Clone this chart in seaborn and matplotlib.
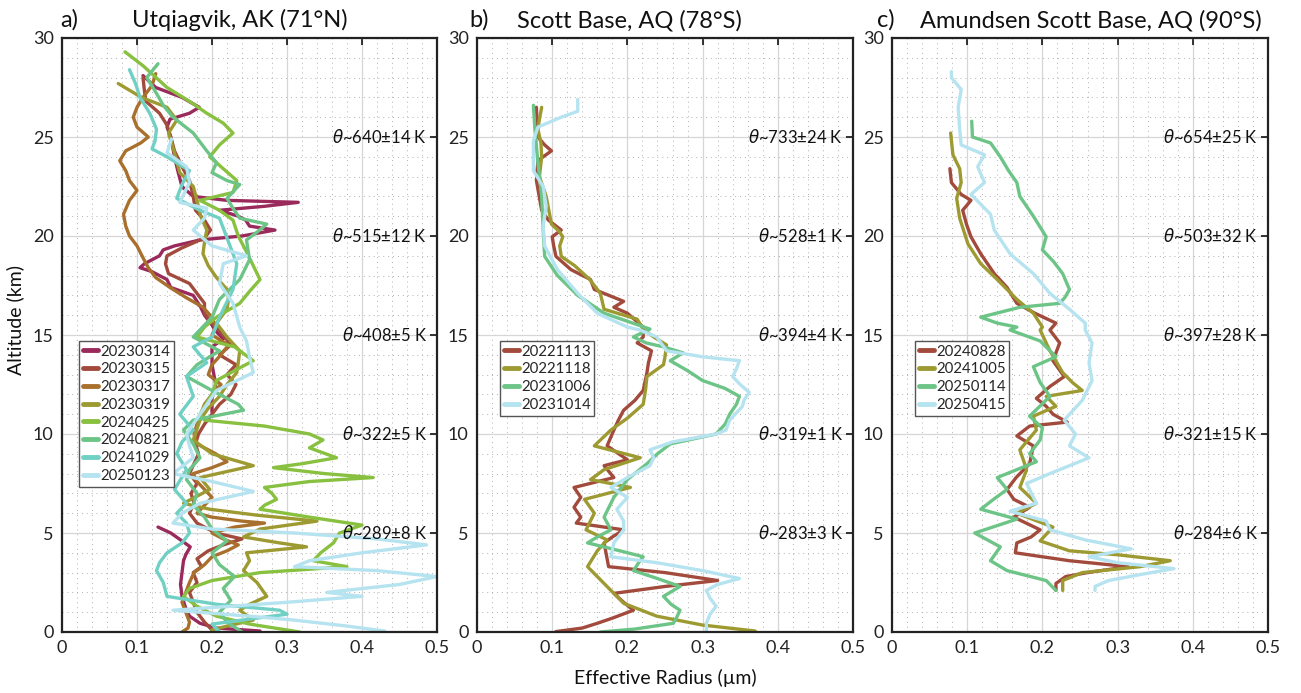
import numpy as np
import pandas as pd
import matplotlib
matplotlib.use("Agg")
import matplotlib.pyplot as plt
from matplotlib.lines import Line2D
from matplotlib.ticker import MultipleLocator, FixedLocator, FuncFormatter
import seaborn as sns

nan = np.nan

# ---------------- data: (altitude km, effective radius um) ----------------
# Panel a: Utqiagvik
a_20230314 = [(28.1,.108),(27.5,.125),(27.0,.16),(26.5,.183),(26.2,.17),(25.9,.144),(25.5,.14),(25.0,.145),(24.0,.15),(23.2,.155),(22.5,.16),(22.0,.175),(21.8,.22),(21.7,.315),(21.5,.27),(21.3,.21),(21.0,.235),(20.8,.245),(20.5,.25),(20.3,.284),(20.0,.24),(19.8,.184),(19.5,.15),(19.3,.135),(19.0,.13),(18.6,.11),(18.4,.104),(18.2,.12),(17.8,.14),(17.4,.145),(17.0,.175),(16.4,.185),(16.0,.19),(15.5,.2),(15.2,.205),(14.8,.215),(14.4,.2),(13.5,.2),(12.5,.205),(11.8,.2),(11.1,.2),(nan,nan),(5.3,.128),(5.0,.145),(4.6,.16),(4.3,.171),(3.9,.165),(3.6,.162),(3.0,.16),(2.4,.158),(1.8,.16),(1.2,.165),(0.8,.17),(0.44,.184),(0.2,.206),(0.05,.264)]
a_20230315 = [(28.0,.108),(27.3,.11),(26.8,.112),(26.2,.13),(25.6,.14),(25.0,.145),(24.3,.15),(23.5,.16),(22.8,.17),(22.0,.175),(21.3,.178),(20.8,.19),(20.3,.198),(19.9,.19),(19.4,.16),(19.0,.14),(18.6,.138),(18.1,.142),(17.6,.17),(17.1,.18),(16.6,.19),(16.1,.19),(15.6,.2),(15.0,.215),(14.5,.225),(14.0,.21),(13.5,.232),(13.0,.22),(12.5,.232),(12.0,.225),(11.5,.21),(11.0,.2),(10.5,.19),(10.0,.182),(9.5,.178),(9.0,.182),(8.5,.176),(8.0,.17),(7.5,.18),(7.0,.172),(6.5,.176),(6.0,.17),(5.5,.18),(5.0,.205),(4.7,.24),(4.4,.215),(4.1,.195),(3.7,.18),(3.3,.186),(3.0,.175),(2.5,.18),(2.0,.17),(1.5,.175),(1.0,.18),(0.5,.19),(0.1,.2)]
a_20230317 = [(28.2,.125),(27.6,.12),(27.0,.108),(26.5,.1),(26.0,.095),(25.5,.1),(25.0,.115),(24.7,.105),(24.3,.085),(23.8,.077),(23.3,.085),(22.8,.09),(22.3,.1),(21.8,.09),(21.1,.082),(20.5,.085),(20.0,.09),(19.5,.1),(18.9,.108),(18.4,.115),(17.9,.125),(17.4,.144),(16.9,.165),(16.4,.188),(15.9,.2),(15.4,.205),(15.0,.2),(14.5,.222),(14.0,.212),(13.5,.2),(13.0,.195),(12.5,.212),(12.0,.2),(11.5,.19),(11.0,.185),(10.5,.18),(10.0,.176),(9.5,.18),(9.0,.205),(8.6,.22),(8.3,.2),(8.0,.175),(7.6,.18),(7.2,.19),(6.8,.2),(6.4,.19),(6.0,.18),(5.8,.2),(5.6,.24),(5.5,.27),(5.3,.23),(5.0,.2),(4.7,.215),(4.4,.235),(4.1,.22),(3.8,.2),(3.4,.19),(3.0,.176),(2.5,.17),(2.0,.165),(1.5,.16),(1.0,.165),(0.5,.17),(0.2,.168),(0.0,.16)]
a_20230319 = [(27.7,.075),(27.0,.106),(26.5,.14),(25.85,.153),(25.2,.142),(24.2,.15),(23.2,.157),(22.5,.175),(21.8,.18),(21.0,.185),(20.3,.193),(19.7,.19),(19.1,.188),(18.5,.195),(17.9,.206),(17.3,.22),(16.8,.222),(16.3,.22),(15.6,.206),(14.9,.22),(14.2,.237),(13.6,.235),(13.1,.233),(12.5,.22),(11.9,.21),(11.3,.195),(10.7,.184),(9.7,.175),(9.0,.2),(8.4,.255),(7.8,.184),(7.2,.197),(6.5,.162),(6.2,.197),(5.9,.26),(5.6,.34),(5.2,.264),(4.8,.242),(4.5,.29),(4.3,.326),(4.0,.246),(3.6,.25),(3.1,.242),(2.5,.26),(1.8,.273),(1.4,.25),(1.1,.237),(0.6,.255),(0.3,.22),(0.1,.2)]
a_20240425 = [(29.3,.084),(28.6,.108),(27.5,.14),(26.8,.17),(26.2,.193),(25.7,.215),(25.2,.228),(24.6,.21),(24.0,.197),(23.4,.215),(22.8,.233),(22.2,.228),(21.8,.184),(21.3,.21),(20.8,.228),(20.0,.235),(19.2,.246),(18.5,.255),(17.8,.264),(17.2,.25),(16.6,.237),(15.9,.206),(15.4,.19),(14.9,.18),(14.4,.23),(13.7,.255),(13.2,.23),(12.7,.206),(12.0,.2),(11.4,.19),(11.0,.184),(10.7,.19),(10.4,.27),(10.0,.33),(9.7,.348),(9.3,.33),(8.8,.366),(8.5,.32),(8.3,.282),(8.0,.35),(7.8,.415),(7.6,.33),(7.3,.27),(7.0,.28),(6.7,.286),(6.4,.27),(6.2,.264),(5.8,.33),(5.4,.4),(5.0,.37),(4.5,.362),(4.0,.345),(3.6,.335),(3.3,.38),(3.0,.264),(2.6,.2),(2.2,.17),(1.8,.162),(1.3,.18),(0.8,.206),(0.4,.25),(0.0,.317)]
a_20240821 = [(28.7,.128),(28.0,.113),(27.2,.126),(26.6,.135),(26.0,.148),(25.2,.175),(24.3,.193),(23.7,.206),(23.2,.2),(22.8,.22),(22.6,.237),(21.9,.22),(21.4,.228),(20.9,.237),(20.6,.273),(20.2,.26),(19.8,.246),(18.8,.25),(17.8,.237),(16.8,.21),(15.9,.2),(14.9,.175),(14.2,.21),(13.5,.18),(12.9,.166),(12.2,.2),(11.5,.235),(11.2,.242),(10.7,.175),(10.2,.162),(9.5,.175),(8.8,.184),(8.2,.17),(7.7,.166),(7.0,.18),(6.4,.175),(5.8,.19),(5.2,.2),(4.6,.22),(4.0,.2),(3.4,.21),(2.8,.23),(2.2,.215),(1.6,.225),(1.0,.21),(0.5,.22),(0.0,.24)]
a_20241029 = [(28.4,.09),(27.7,.098),(27.0,.104),(26.2,.117),(25.4,.126),(24.8,.124),(24.4,.12),(24.0,.14),(23.3,.17),(22.6,.16),(21.9,.153),(21.3,.184),(20.9,.21),(19.9,.22),(18.6,.233),(17.3,.228),(15.9,.21),(14.9,.2),(14.4,.175),(13.6,.193),(12.9,.166),(11.9,.175),(11.0,.157),(10.2,.175),(9.6,.16),(9.0,.153),(8.2,.166),(7.2,.15),(6.5,.166),(6.0,.153),(5.5,.166),(5.0,.17),(4.5,.16),(4.0,.14),(3.5,.13),(3.1,.126),(2.5,.135),(1.8,.14),(1.4,.206),(1.1,.29),(0.9,.3),(0.7,.26),(0.4,.2),(0.0,.21)]
a_20250123 = [(24.9,.146),(24.2,.14),(23.5,.166),(22.7,.17),(21.7,.157),(21.4,.193),(20.9,.19),(20.3,.175),(19.5,.2),(19.0,.246),(18.6,.215),(17.6,.21),(16.6,.228),(15.4,.237),(14.7,.246),(13.9,.25),(13.1,.255),(12.2,.206),(11.0,.184),(10.0,.166),(9.4,.17),(8.8,.175),(8.0,.148),(7.6,.2),(7.1,.255),(6.8,.22),(6.5,.184),(6.0,.16),(5.5,.148),(5.2,.2),(5.0,.31),(4.7,.42),(4.4,.486),(4.0,.4),(3.6,.33),(3.3,.31),(3.1,.42),(2.8,.5),(2.4,.45),(2.0,.353),(1.8,.4),(1.5,.3),(1.1,.148),(0.8,.25),(0.6,.31),(0.3,.38),(0.05,.43)]

# Panel b: Scott Base
b_20221113 = [(26.5,.079),(25.7,.08),(25.0,.081),(24.6,.09),(24.3,.099),(24.0,.088),(23.8,.081),(22.8,.079),(21.3,.086),(20.8,.095),(20.3,.112),(19.96,.1),(19.5,.102),(18.97,.105),(18.3,.125),(17.8,.151),(17.3,.156),(16.7,.195),(16.4,.182),(16.1,.2),(15.4,.221),(14.9,.221),(14.6,.213),(14.2,.232),(13.6,.228),(13.1,.226),(12.2,.221),(11.7,.21),(11.2,.195),(10.7,.188),(10.2,.182),(9.4,.173),(8.7,.2),(8.4,.169),(7.8,.182),(7.3,.129),(6.8,.138),(6.3,.129),(5.8,.138),(5.5,.132),(5.16,.195),(4.8,.18),(4.5,.169),(3.9,.172),(3.3,.175),(3.0,.25),(2.6,.32),(2.3,.25),(1.95,.182),(1.5,.195),(1.1,.208),(0.7,.18),(0.44,.16),(0.2,.14),(0.02,.105)]
b_20221118 = [(26.5,.086),(25.9,.083),(25.4,.081),(24.7,.085),(24.0,.086),(23.0,.083),(22.0,.092),(20.6,.099),(20.2,.11),(19.96,.114),(19.5,.11),(18.97,.112),(18.5,.13),(17.8,.15),(17.1,.164),(16.3,.169),(15.8,.213),(15.3,.221),(14.9,.235),(14.5,.252),(13.9,.25),(13.5,.248),(12.9,.226),(12.2,.224),(11.5,.221),(10.8,.2),(10.2,.178),(9.4,.156),(8.8,.217),(8.2,.169),(7.7,.151),(7.3,.204),(6.7,.143),(6.0,.156),(5.16,.145),(4.65,.173),(4.1,.16),(3.3,.147),(2.45,.169),(1.45,.195),(0.8,.239),(0.35,.3),(0.05,.37)]
b_20231006 = [(26.6,.075),(25.4,.077),(23.7,.081),(22.0,.086),(20.3,.088),(18.97,.09),(18.0,.107),(17.0,.134),(16.1,.169),(15.3,.23),(14.9,.208),(14.6,.225),(14.4,.248),(14.1,.274),(13.7,.257),(13.2,.28),(12.7,.3),(12.3,.33),(11.9,.349),(11.5,.345),(11.0,.336),(10.5,.33),(10.0,.318),(9.5,.257),(9.0,.24),(8.5,.226),(7.7,.2),(6.8,.182),(5.8,.169),(5.16,.178),(4.8,.16),(4.5,.147),(4.1,.19),(3.8,.221),(3.5,.215),(3.1,.208),(2.7,.24),(2.3,.27),(1.8,.248),(1.4,.258),(1.1,.27),(0.7,.265),(0.44,.261),(0.15,.21),(0.0,.164)]
b_20231014 = [(26.9,.134),(26.3,.134),(26.0,.112),(25.5,.081),(24.8,.075),(23.3,.075),(22.5,.088),(21.5,.092),(20.5,.088),(19.5,.09),(18.3,.107),(17.1,.134),(16.1,.16),(15.4,.2),(15.25,.217),(14.9,.239),(14.2,.252),(13.9,.3),(13.7,.349),(13.3,.345),(12.9,.34),(12.5,.35),(12.1,.362),(11.7,.355),(11.4,.353),(10.7,.336),(10.2,.331),(10.0,.318),(9.6,.26),(9.2,.23),(8.8,.235),(8.4,.23),(7.8,.2),(7.3,.178),(6.8,.2),(6.2,.186),(5.6,.195),(5.16,.195),(4.5,.182),(3.8,.178),(3.5,.239),(3.1,.3),(2.7,.349),(2.4,.32),(2.1,.305),(1.7,.31),(1.3,.318),(0.9,.31),(0.44,.305),(0.02,.305)]

# Panel c: Amundsen Scott Base
c_20240828 = [(23.4,.077),(22.7,.079),(22.1,.092),(21.8,.105),(21.3,.094),(20.6,.099),(19.96,.105),(19.1,.118),(18.1,.136),(17.4,.153),(16.6,.166),(16.1,.19),(15.6,.218),(15.25,.21),(14.6,.223),(13.7,.214),(12.9,.229),(12.4,.21),(11.8,.192),(11.4,.205),(11.0,.214),(10.6,.233),(10.4,.183),(9.9,.166),(9.4,.188),(8.5,.183),(7.8,.165),(7.2,.153),(6.7,.162),(6.3,.183),(5.8,.162),(5.16,.197),(4.8,.185),(4.5,.166),(4.0,.164),(3.8,.2),(3.6,.236),(3.3,.314),(3.0,.26),(2.8,.231),(2.45,.218),(2.1,.218)]
c_20241005 = [(25.2,.078),(24.1,.081),(23.4,.09),(22.7,.092),(21.9,.086),(20.9,.09),(19.6,.101),(18.6,.118),(17.8,.14),(16.8,.166),(16.1,.188),(15.4,.2),(15.25,.197),(14.2,.21),(13.1,.227),(12.6,.24),(12.2,.253),(11.9,.205),(11.4,.218),(10.9,.188),(10.2,.192),(9.2,.17),(8.2,.179),(7.3,.17),(6.5,.192),(6.0,.166),(5.3,.214),(4.6,.197),(4.1,.236),(3.9,.3),(3.6,.37),(3.3,.33),(3.0,.253),(2.6,.227),(2.1,.227)]
c_20250114 = [(25.8,.106),(25.0,.107),(24.7,.131),(24.0,.144),(23.3,.155),(22.7,.166),(22.0,.17),(21.0,.188),(19.96,.205),(19.3,.2),(18.7,.215),(18.1,.227),(17.3,.236),(16.9,.23),(16.6,.223),(16.4,.17),(15.9,.118),(15.6,.14),(15.4,.166),(15.25,.157),(14.7,.197),(13.9,.218),(13.4,.188),(12.6,.197),(11.9,.21),(10.9,.183),(10.3,.2),(9.7,.197),(9.0,.183),(8.6,.192),(7.8,.14),(7.2,.153),(6.7,.135),(6.2,.118),(5.7,.166),(5.0,.11),(4.3,.144),(3.6,.131),(3.1,.153),(2.6,.205),(2.1,.218)]
c_20250415 = [(28.3,.079),(28.0,.079),(27.4,.092),(26.5,.088),(25.4,.09),(24.6,.092),(24.1,.123),(23.5,.114),(22.7,.123),(22.1,.105),(21.1,.131),(20.3,.136),(19.1,.157),(18.1,.188),(17.1,.21),(16.3,.236),(15.6,.257),(15.25,.257),(14.6,.266),(13.6,.262),(12.7,.266),(11.7,.253),(10.7,.229),(10.0,.244),(9.4,.236),(8.8,.262),(8.0,.21),(7.5,.179),(6.5,.192),(6.1,.157),(5.6,.205),(5.16,.21),(4.65,.257),(4.2,.318),(3.8,.262),(3.5,.3),(3.2,.375),(2.9,.33),(2.6,.288),(2.3,.27),(2.1,.27)]

panel_series = [
    {"20230314": a_20230314, "20230315": a_20230315, "20230317": a_20230317,
     "20230319": a_20230319, "20240425": a_20240425, "20240821": a_20240821,
     "20241029": a_20241029, "20250123": a_20250123},
    {"20221113": b_20221113, "20221118": b_20221118,
     "20231006": b_20231006, "20231014": b_20231014},
    {"20240828": c_20240828, "20241005": c_20241005,
     "20250114": c_20250114, "20250415": c_20250415},
]
panel_tags = ["a)", "b)", "c)"]
panel_titles = ["Utqiagvik, AK (71°N)", "Scott Base, AQ (78°S)", "Amundsen Scott Base, AQ (90°S)"]
theta_alts = [25, 20, 15, 10, 5]
theta_labels = [
    ["640±14", "515±12", "408±5", "322±5", "289±8"],
    ["733±24", "528±1", "394±4", "319±1", "283±3"],
    ["654±25", "503±32", "397±28", "321±15", "284±6"],
]
x_ticks = [0, 0.1, 0.2, 0.3, 0.4, 0.5]
y_ticks = [0, 5, 10, 15, 20, 25, 30]

colors_a = ["#9a2a5c", "#a24a3c", "#a8702c", "#9e9a32", "#88c040", "#6cc487", "#70d0c4", "#b6e3f0"]
colors_bc = ["#a24a3c", "#9e9a32", "#6cc487", "#b6e3f0"]
panel_colors = [colors_a, colors_bc, colors_bc]

# ---------------- style ----------------
sns.set_style("white")
plt.rcParams["font.family"] = ["Lato", "DejaVu Sans"]
plt.rcParams["mathtext.fontset"] = "dejavusans"
plt.rcParams["axes.unicode_minus"] = False

fig = plt.figure(figsize=(13.01, 6.93), dpi=100)
W, H = 1301, 693
lefts = [62, 477, 892]
widths = [375, 376, 376]
tag_x = [-0.005, -0.019, -0.04]
title_x = [0.187, 0.106, 0.074]

for i in range(3):
    ax = fig.add_axes([lefts[i] / W, 61 / H, widths[i] / W, 594 / H])
    rows = []
    for date, pts in panel_series[i].items():
        seg = 0
        for alt, r in pts:
            if np.isnan(alt):
                seg += 1
                continue
            rows.append({"date": date, "seg": f"{date}_{seg}", "alt": alt, "r": r})
    df = pd.DataFrame(rows)
    order = list(panel_series[i].keys())
    pal = dict(zip(order, panel_colors[i]))
    sns.lineplot(data=df, x="r", y="alt", hue="date", hue_order=order, units="seg",
                 estimator=None, sort=False, orient="y", palette=pal, lw=2.4,
                 legend=False, ax=ax, solid_joinstyle="round", solid_capstyle="round")

    ax.set_xlim(0, 0.5)
    ax.set_ylim(0, 30)
    ax.xaxis.set_major_locator(FixedLocator(x_ticks))
    ax.yaxis.set_major_locator(FixedLocator(y_ticks))
    ax.xaxis.set_minor_locator(MultipleLocator(0.02))
    ax.yaxis.set_minor_locator(MultipleLocator(1))
    ax.xaxis.set_major_formatter(FuncFormatter(lambda v, p: "0" if abs(v) < 1e-9 else f"{v:.1f}"))
    ax.grid(which="major", color="#d6d6d6", lw=0.9, ls="-")
    ax.grid(which="minor", color="#b0b0b0", lw=0.7, ls=(0, (1, 4)))
    ax.set_axisbelow(True)
    ax.tick_params(which="major", direction="in", length=5, width=1.3,
                   top=True, right=True, labelsize=13, colors="#222222", pad=6)
    ax.tick_params(which="minor", length=0)
    for s in ax.spines.values():
        s.set_linewidth(1.6)
        s.set_color("#222222")
    ax.set_xlabel("")
    ax.set_ylabel("")

    # theta annotations
    for alt, lab in zip(theta_alts, theta_labels[i]):
        ax.annotate(r"$\theta$~" + lab + " K", xy=(1, alt), xycoords=("axes fraction", "data"),
                    xytext=(-7, 0), textcoords="offset points", ha="right", va="center",
                    fontsize=12, color="#111111")

    # title parts
    ax.text(tag_x[i], 1.0185, panel_tags[i], transform=ax.transAxes, ha="left",
            va="baseline", fontsize=17, color="#111111")
    ax.text(title_x[i], 1.0185, panel_titles[i], transform=ax.transAxes, ha="left",
            va="baseline", fontsize=17, color="#111111")

    handles = [Line2D([0], [0], color=pal[d], lw=3.5) for d in order]
    leg_x = 0.045 if i == 0 else 0.061
    leg = ax.legend(handles, order, loc="upper left", bbox_to_anchor=(leg_x, 0.49),
                    fontsize=10.8, frameon=True, fancybox=False, framealpha=1,
                    edgecolor="#555555", handlelength=1.0, handletextpad=0.15,
                    borderpad=0.25, labelspacing=0.25, borderaxespad=0)
    leg.get_frame().set_linewidth(1.0)
    if i == 0:
        ax.set_ylabel("Altitude (km)", fontsize=14, color="#111111")
        ax.yaxis.set_label_coords(-0.1, 0.525)

fig.text(665 / W, 1 - 678 / H, "Effective Radius (µm)", ha="center", va="center",
         fontsize=14, color="#111111")

fig.savefig("out.png", dpi=100)
